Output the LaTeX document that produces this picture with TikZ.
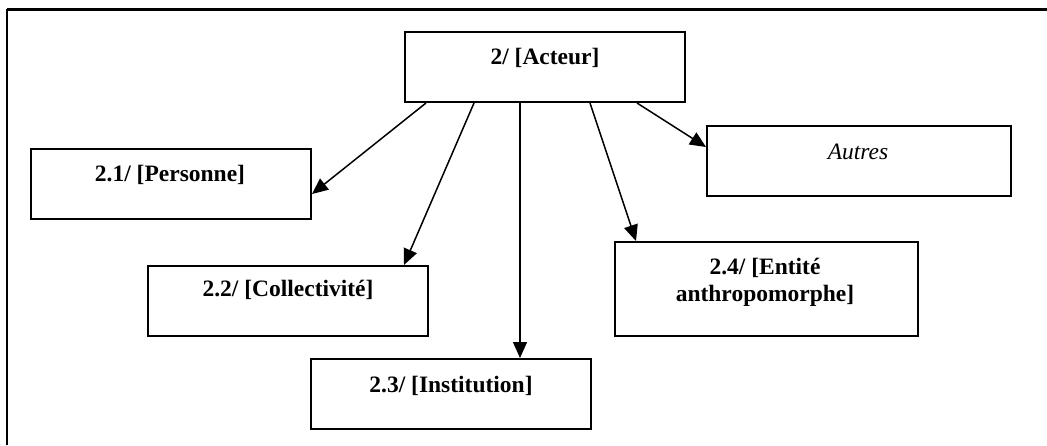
\documentclass[tikz,border=0pt]{standalone}
\usepackage{fontspec}
\setmainfont{Liberation Serif}
\usetikzlibrary{arrows.meta,calc}
\begin{document}
\begin{tikzpicture}[x=1pt,y=-1pt,
  box/.style={draw=black,line width=2pt,fill=white,rectangle,inner sep=0pt},
  lbl/.style={font=\fontsize{23.5}{27}\selectfont\bfseries,align=center,inner sep=0pt},
  link/.style={line width=1.5pt,-{Triangle[length=16pt,width=14pt]}}]
  \useasboundingbox (0,0) rectangle (1047,445);
  % frame
  \coordinate (ftl) at (7,9);
  \coordinate (ftr) at (1047,9);
  \coordinate (fbl) at (7,445);
  \draw[line width=3pt] (ftl) -- (ftr);
  \draw[line width=1.5pt] (ftl) -- (fbl);
  % boxes
  \node[box,minimum width=280pt,minimum height=70pt] (acteur) at (545,67) {};
  \node[box,minimum width=280pt,minimum height=70pt] (personne) at (171,184) {};
  \node[box,minimum width=304pt,minimum height=70pt] (autres) at (859,161) {};
  \node[box,minimum width=280pt,minimum height=70pt] (collect) at (288,301) {};
  \node[box,minimum width=303pt,minimum height=94pt] (entite) at (766.5,289) {};
  \node[box,minimum width=280pt,minimum height=70pt] (instit) at (451,394) {};
  % labels
  \node[lbl] (acteurT) at (545,58) {2/ [Acteur]};
  \node[lbl] (personneT) at (170,175) {2.1/ [Personne]};
  \node[lbl,font=\fontsize{23.5}{27}\selectfont\itshape] (autresT) at (858,152) {Autres};
  \node[lbl] (collectT) at (288,290) {2.2/ [Collectivité]};
  \node[lbl] (entiteT) at (765,282) {2.4/ [Entité\\anthropomorphe]};
  \node[lbl] (institT) at (451,386) {2.3/ [Institution]};
  % connectors
  \draw[link] ($(acteur.south west)+(22,0)$) -- ($(personne.north east)+(0,46)$);
  \draw[link] ($(acteur.south west)+(70,0)$) -- ($(collect.north west)+(257,0)$);
  \draw[link] ($(acteur.south west)+(116,0)$) -- ($(instit.north west)+(210,0)$);
  \draw[link] ($(acteur.south west)+(186,0)$) -- ($(entite.north west)+(22,0)$);
  \draw[link] ($(acteur.south west)+(233,0)$) -- ($(autres.north west)+(0,22)$);
\end{tikzpicture}
\end{document}
